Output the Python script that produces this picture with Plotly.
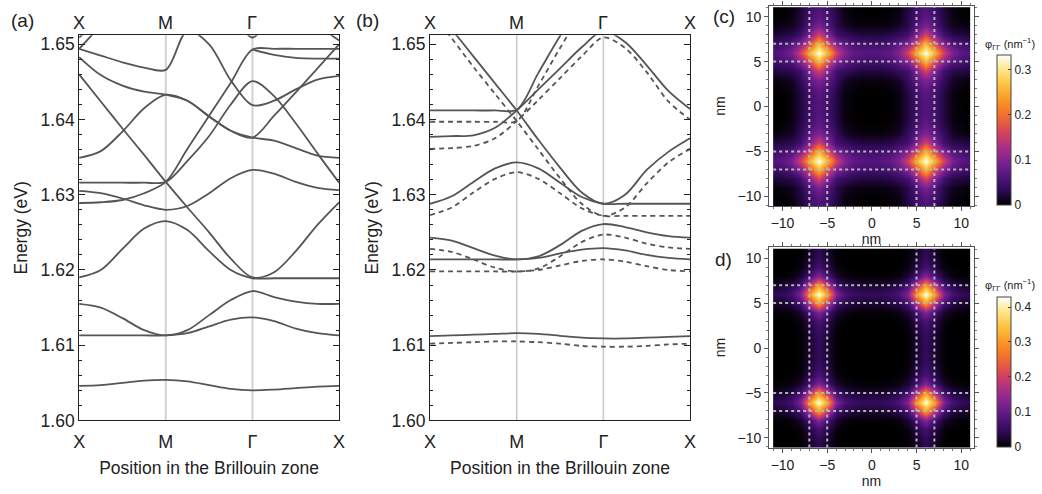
import numpy as np
import plotly.graph_objects as go

# ---------------- band structures ----------------
# path coordinate: X = 0, M = 1, Γ = 2, X = 3
k_path = [0, 0.25, 0.5, 0.75, 1.0, 1.25, 1.5, 1.75, 2.0, 2.25, 2.5, 2.75, 3.0]
k_ticks = [0, 1, 2, 3]
k_labels = ["X", "M", "Γ", "X"]
energy_ticks = [1.60, 1.61, 1.62, 1.63, 1.64, 1.65]
energy_labels = ["1.60", "1.61", "1.62", "1.63", "1.64", "1.65"]

N = None
# panel (a) energies (eV)
band_a1 = [1.6046, 1.6047, 1.6050, 1.6053, 1.6054, 1.6052, 1.6047, 1.6042, 1.6040, 1.6041, 1.6043, 1.6045, 1.6046]
band_a2 = [1.6113, 1.6113, 1.6113, 1.6113, 1.6113, 1.6116, 1.6125, 1.6134, 1.6137, 1.6132, 1.6122, 1.6116, 1.6113]
band_a3 = [1.6155, 1.6150, 1.6136, 1.6120, 1.6113, 1.6120, 1.6140, 1.6160, 1.6172, 1.6164, 1.6158, 1.6155, 1.6155]
band_a4 = [1.6190, 1.6200, 1.6228, 1.6255, 1.6265, 1.6253, 1.6225, 1.6200, 1.6189, 1.6189, 1.6189, 1.6189, 1.6189]
band_a5 = [1.6460, 1.6424, 1.6388, 1.6353, 1.6317, 1.6283, 1.6250, 1.6215, 1.6190, 1.6197, 1.6225, 1.6260, 1.6290]
band_a6 = [1.6349, 1.6358, 1.6384, 1.6415, 1.6433, 1.6425, 1.6404, 1.6385, 1.6376, 1.6372, 1.6362, 1.6352, 1.6349]
band_a7 = [1.6483, 1.6459, 1.6445, 1.6437, 1.6433, 1.6425, 1.6404, 1.6385, 1.6376, 1.6405, 1.6436, 1.6468, 1.6500]
band_a8 = [1.6494, 1.6485, 1.6476, 1.6469, 1.6466, 1.6518, 1.6500, 1.6452, 1.6419, 1.6425, 1.6440, 1.6453, 1.6458]
band_a9 = [1.6289, 1.6290, 1.6293, 1.6302, 1.6317, 1.6361, 1.6405, 1.6449, 1.6493, 1.6494, 1.6494, 1.6494, 1.6494]
band_a10 = [1.6316, 1.6316, 1.6316, 1.6316, 1.6317, 1.6345, 1.6378, 1.6420, 1.6451, 1.6431, 1.6395, 1.6355, 1.6316]
band_a11 = [1.6305, 1.6302, 1.6295, 1.6286, 1.6280, 1.6285, 1.6302, 1.6322, 1.6333, 1.6328, 1.6317, 1.6309, 1.6306]
band_a12 = [N, N, N, N, N, N, N, 1.6550, 1.6509, 1.6550, N, N, N]
band_a13 = [1.6494, 1.6525, 1.6556, N, N, N, N, N, 1.6493, 1.6486, 1.6482, 1.6481, 1.6481]
band_a14 = [1.6509, 1.6535, N, N, N, N, N, N, N, N, 1.6545, 1.6525, 1.6505]

bands_a = [band_a1, band_a2, band_a3, band_a4, band_a5, band_a6, band_a7,
           band_a8, band_a9, band_a10, band_a11, band_a12, band_a13, band_a14]

# panel (b) energies (eV): solid and dashed sets
band_b1 = [1.6112, 1.6113, 1.6114, 1.6115, 1.6116, 1.6115, 1.61125, 1.6110, 1.6109, 1.6109, 1.6110, 1.6111, 1.6112]
band_b2 = [1.6214, 1.6214, 1.6214, 1.6214, 1.6214, 1.6216, 1.6222, 1.6227, 1.6229, 1.6226, 1.6220, 1.6216, 1.6214]
band_b3 = [1.6243, 1.6239, 1.6229, 1.6219, 1.6214, 1.6218, 1.6233, 1.6252, 1.6261, 1.6257, 1.6250, 1.6245, 1.6243]
band_b4 = [1.6288, 1.6298, 1.6317, 1.6335, 1.6343, 1.6335, 1.6316, 1.6297, 1.6288, 1.6288, 1.6288, 1.6288, 1.6288]
band_b5 = [1.6556, 1.6520, 1.6484, 1.6448, 1.6412, 1.6373, 1.6336, 1.6303, 1.6288, 1.6300, 1.6333, 1.6357, 1.6375]
band_b6 = [1.6377, 1.6378, 1.6379, 1.6389, 1.6412, 1.6440, 1.6468, 1.6496, 1.6518, 1.6503, 1.6472, 1.6438, 1.6414]
band_b7 = [1.6412, 1.6412, 1.6412, 1.6412, 1.6413, 1.6462, 1.6511, 1.6555, 1.6580, 1.6575, 1.6565, 1.6558, 1.6556]
bands_b_solid = [band_b1, band_b2, band_b3, band_b4, band_b5, band_b6, band_b7]

band_b1d = [1.6102, 1.6103, 1.6104, 1.6105, 1.6105, 1.6104, 1.6102, 1.6099, 1.6098, 1.6098, 1.6099, 1.6101, 1.6102]
band_b2d = [1.6198, 1.6198, 1.6198, 1.6198, 1.6198, 1.6200, 1.6206, 1.6212, 1.6214, 1.6211, 1.6205, 1.6200, 1.6198]
band_b3d = [1.6228, 1.6224, 1.6214, 1.6203, 1.6198, 1.6202, 1.6218, 1.6237, 1.6247, 1.6243, 1.6235, 1.6230, 1.6228]
band_b4d = [1.6273, 1.6283, 1.6303, 1.6321, 1.6330, 1.6321, 1.6302, 1.6282, 1.6272, 1.6272, 1.6272, 1.6272, 1.6272]
band_b5d = [1.6545, 1.6508, 1.6470, 1.6434, 1.6398, 1.6360, 1.6322, 1.6288, 1.6272, 1.6283, 1.6315, 1.6343, 1.6361]
band_b6d = [1.6361, 1.6362, 1.6365, 1.6375, 1.6398, 1.6426, 1.6455, 1.6484, 1.6509, 1.6495, 1.6463, 1.6424, 1.6400]
band_b7d = [1.6397, 1.6397, 1.6397, 1.6397, 1.6398, 1.6445, 1.6495, 1.6540, 1.6565, 1.6560, 1.6552, 1.6546, 1.6545]
bands_b_dashed = [band_b1d, band_b2d, band_b3d, band_b4d, band_b5d, band_b6d, band_b7d]

# ---------------- densities (nm^-1), one quadrant, rows y = 0..11, cols x = 0..11 ----------------
density_c = [
    [0.000, 0.000, 0.001, 0.006, 0.025, 0.050, 0.065, 0.050, 0.025, 0.006, 0.001, 0.000],
    [0.000, 0.000, 0.001, 0.006, 0.025, 0.051, 0.067, 0.051, 0.025, 0.006, 0.001, 0.000],
    [0.001, 0.001, 0.003, 0.009, 0.029, 0.057, 0.075, 0.057, 0.028, 0.008, 0.003, 0.001],
    [0.006, 0.006, 0.009, 0.016, 0.040, 0.075, 0.100, 0.075, 0.038, 0.015, 0.008, 0.006],
    [0.025, 0.025, 0.029, 0.040, 0.050, 0.100, 0.160, 0.100, 0.050, 0.030, 0.028, 0.024],
    [0.050, 0.051, 0.057, 0.075, 0.100, 0.170, 0.260, 0.170, 0.100, 0.065, 0.052, 0.047],
    [0.065, 0.067, 0.075, 0.100, 0.160, 0.260, 0.333, 0.260, 0.160, 0.095, 0.070, 0.062],
    [0.050, 0.051, 0.057, 0.075, 0.100, 0.170, 0.260, 0.170, 0.100, 0.065, 0.052, 0.047],
    [0.025, 0.025, 0.028, 0.038, 0.050, 0.100, 0.160, 0.100, 0.050, 0.028, 0.024, 0.020],
    [0.006, 0.006, 0.008, 0.015, 0.030, 0.065, 0.095, 0.065, 0.028, 0.012, 0.007, 0.005],
    [0.001, 0.001, 0.003, 0.008, 0.028, 0.052, 0.070, 0.052, 0.024, 0.007, 0.002, 0.001],
    [0.000, 0.000, 0.001, 0.006, 0.024, 0.047, 0.062, 0.047, 0.020, 0.005, 0.001, 0.000],
]
density_d = [
    [0.000, 0.000, 0.000, 0.000, 0.003, 0.024, 0.048, 0.024, 0.003, 0.000, 0.000, 0.000],
    [0.000, 0.000, 0.000, 0.000, 0.003, 0.025, 0.050, 0.025, 0.003, 0.000, 0.000, 0.000],
    [0.000, 0.000, 0.000, 0.000, 0.005, 0.030, 0.056, 0.030, 0.004, 0.000, 0.000, 0.000],
    [0.000, 0.000, 0.000, 0.002, 0.010, 0.040, 0.075, 0.040, 0.008, 0.001, 0.000, 0.000],
    [0.003, 0.003, 0.005, 0.010, 0.025, 0.068, 0.130, 0.068, 0.025, 0.008, 0.004, 0.003],
    [0.024, 0.025, 0.030, 0.040, 0.068, 0.180, 0.310, 0.180, 0.068, 0.036, 0.024, 0.020],
    [0.048, 0.050, 0.056, 0.075, 0.130, 0.310, 0.430, 0.310, 0.130, 0.068, 0.048, 0.042],
    [0.024, 0.025, 0.030, 0.040, 0.068, 0.180, 0.310, 0.180, 0.068, 0.036, 0.024, 0.020],
    [0.003, 0.003, 0.004, 0.008, 0.025, 0.068, 0.130, 0.068, 0.025, 0.006, 0.003, 0.002],
    [0.000, 0.000, 0.000, 0.001, 0.008, 0.036, 0.068, 0.036, 0.006, 0.001, 0.000, 0.000],
    [0.000, 0.000, 0.000, 0.000, 0.004, 0.024, 0.048, 0.024, 0.003, 0.000, 0.000, 0.000],
    [0.000, 0.000, 0.000, 0.000, 0.003, 0.020, 0.042, 0.020, 0.002, 0.000, 0.000, 0.000],
]
density_max_c = 0.333
density_max_d = 0.43
colorbar_ticks_c = [0, 0.1, 0.2, 0.3]
colorbar_ticks_d = [0, 0.1, 0.2, 0.3, 0.4]
wire_edges = [-7, -5, 5, 7]
nm_ticks = [-10, -5, 0, 5, 10]

# ---------------- styling ----------------
FONT = "Liberation Sans, Arial, sans-serif"
TXT = "#222222"
BAND = "#555555"
sunset = [
    [0.00, "#000000"], [0.04, "#140424"], [0.10, "#2e0a55"], [0.18, "#4e1378"],
    [0.27, "#74208f"], [0.37, "#a32d8a"], [0.47, "#d03f62"], [0.57, "#ef6336"],
    [0.68, "#fb8f22"], [0.80, "#fec23e"], [0.91, "#ffe98e"], [1.00, "#ffffff"],
]


def full_grid(quadrant):
    q = np.array(quadrant)
    idx = np.abs(np.arange(-11, 12))
    return q[np.ix_(idx, idx)]


# cell edges: interior cells 1 nm wide, outermost cells trimmed to the map border
cell_edges = [-11.05] + [k + 0.5 for k in range(-11, 11)] + [11.05]

fig = go.Figure()

for band in bands_a:
    fig.add_trace(go.Scatter(x=k_path, y=band, mode="lines", xaxis="x", yaxis="y",
                             line=dict(color=BAND, width=1.8, shape="spline", smoothing=0.9),
                             hoverinfo="skip", showlegend=False))
for band in bands_b_solid:
    fig.add_trace(go.Scatter(x=k_path, y=band, mode="lines", xaxis="x2", yaxis="y2",
                             line=dict(color=BAND, width=1.8, shape="spline", smoothing=0.9),
                             hoverinfo="skip", showlegend=False))
for band in bands_b_dashed:
    fig.add_trace(go.Scatter(x=k_path, y=band, mode="lines", xaxis="x2", yaxis="y2",
                             line=dict(color=BAND, width=1.8, shape="spline", smoothing=0.9,
                                       dash="5px,4px"),
                             hoverinfo="skip", showlegend=False))

for quad, zmax, ticks, ax, cb_y in [
    (density_c, density_max_c, colorbar_ticks_c, ("x3", "y3"), 0.7328),
    (density_d, density_max_d, colorbar_ticks_d, ("x4", "y4"), 0.2328),
]:
    fig.add_trace(go.Heatmap(
        x=cell_edges, y=cell_edges, z=full_grid(quad), zmin=0, zmax=zmax,
        zsmooth="best", colorscale=sunset, xaxis=ax[0], yaxis=ax[1], hoverinfo="skip",
        colorbar=dict(x=0.962, xanchor="left", y=cb_y, yanchor="middle",
                      len=150, lenmode="pixels", thickness=14, xpad=0, ypad=0,
                      outlinewidth=1, outlinecolor="#444444",
                      tickvals=ticks, ticktext=[f"{t:g}" for t in ticks],
                      ticks="inside", ticklen=3, tickcolor="#444444",
                      tickfont=dict(family=FONT, size=12, color=TXT)),
    ))

band_x = dict(range=[0, 3], tickvals=k_ticks, ticktext=k_labels, ticks="",
              ticklabelstandoff=5,
              showline=True, mirror=True, linecolor="#222222", linewidth=1,
              showgrid=False, zeroline=False,
              tickfont=dict(family=FONT, size=18, color=TXT),
              title=dict(text="Position in the Brillouin zone",
                         font=dict(family=FONT, size=17.5, color=TXT), standoff=10))
band_y = dict(range=[1.60, 1.6512], tickvals=energy_ticks, ticktext=energy_labels,
              ticks="inside", ticklen=6, tickcolor="#222222", mirror="allticks",
              minor=dict(tick0=1.60, dtick=0.002, ticks="inside", ticklen=3, tickcolor="#222222"),
              showline=True, linecolor="#222222", linewidth=1, showgrid=False, zeroline=False,
              tickfont=dict(family=FONT, size=17.5, color=TXT),
              title=dict(text="Energy (eV)", font=dict(family=FONT, size=17.5, color=TXT), standoff=8))
map_x = dict(range=[-11.5, 11.4], tickvals=nm_ticks, ticks="outside", ticklen=4, tickcolor="#555555",
             minor=dict(dtick=1, ticks="outside", ticklen=2, tickcolor="#777777"),
             mirror="allticks", showline=True, linecolor="#555555", linewidth=1,
             showgrid=False, zeroline=False,
             tickfont=dict(family=FONT, size=14, color=TXT),
             title=dict(text="nm", font=dict(family=FONT, size=14, color=TXT), standoff=0))
map_y = dict(map_x, range=[-11.1, 11.2],
             title=dict(text="nm", font=dict(family=FONT, size=14, color=TXT), standoff=8))

fig.update_layout(
    width=1042, height=494, margin=dict(l=0, r=0, t=0, b=0),
    paper_bgcolor="white", plot_bgcolor="white",
    font=dict(family=FONT, color=TXT),
    xaxis=dict(band_x, domain=[0.0710, 0.3234], anchor="y"),
    yaxis=dict(band_y, domain=[0.1316, 0.9291], anchor="x"),
    xaxis2=dict(band_x, domain=[0.4117, 0.6641], anchor="y2"),
    yaxis2=dict(band_y, domain=[0.1316, 0.9291], anchor="x2"),
    xaxis3=dict(map_x, domain=[0.7409, 0.9395], anchor="y3"),
    yaxis3=dict(map_y, domain=[0.5749, 0.9899], anchor="x3"),
    xaxis4=dict(map_x, domain=[0.7409, 0.9395], anchor="y4"),
    yaxis4=dict(map_y, domain=[0.0749, 0.4899], anchor="x4"),
)

shapes = []
annotations = []
# symmetry-point guides and top labels on both band panels
for xa, ya, w, c in [("x", "y", 2.0, "#d2d2d2"), ("x2", "y2", 1.5, "#c8c8c8")]:
    for k in k_ticks[1:3]:
        shapes.append(dict(type="line", xref=xa, yref=f"{ya} domain", x0=k, x1=k, y0=0, y1=1,
                           line=dict(color=c, width=w), layer="below"))
    for k, lab in zip(k_ticks, k_labels):
        annotations.append(dict(x=k, xref=xa, y=1, yref=f"{ya} domain", yanchor="bottom",
                                yshift=0, text=lab, showarrow=False,
                                font=dict(family=FONT, size=18, color=TXT)))
# wire boundaries on the density maps
for xa, ya in [("x3", "y3"), ("x4", "y4")]:
    for v in wire_edges:
        shapes.append(dict(type="line", xref=xa, yref=ya, x0=v, x1=v, y0=-11.05, y1=11.05,
                           line=dict(color="#b4b4b4", width=2, dash="3px,3px")))
        shapes.append(dict(type="line", xref=xa, yref=ya, y0=v, y1=v, x0=-11.05, x1=11.05,
                           line=dict(color="#b4b4b4", width=2, dash="3px,3px")))

for text, x, y in [("(a)", 0.003, 0.9595), ("(b)", 0.3378, 0.9595),
                   ("(c)", 0.684, 0.9676), ("d)", 0.686, 0.4656)]:
    annotations.append(dict(x=x, y=y, xref="paper", yref="paper", xanchor="left",
                            yanchor="middle", text=text, showarrow=False,
                            font=dict(family=FONT, size=19, color=TXT)))
for y in [0.911, 0.411]:
    annotations.append(dict(x=0.975, y=y, xref="paper", yref="paper", xanchor="center",
                            yanchor="middle", text="φ<sub>ΓΓ</sub> (nm<sup>−1</sup>)",
                            showarrow=False, font=dict(family=FONT, size=11, color=TXT)))

fig.update_layout(shapes=shapes, annotations=annotations)
fig.write_html("out.html")
